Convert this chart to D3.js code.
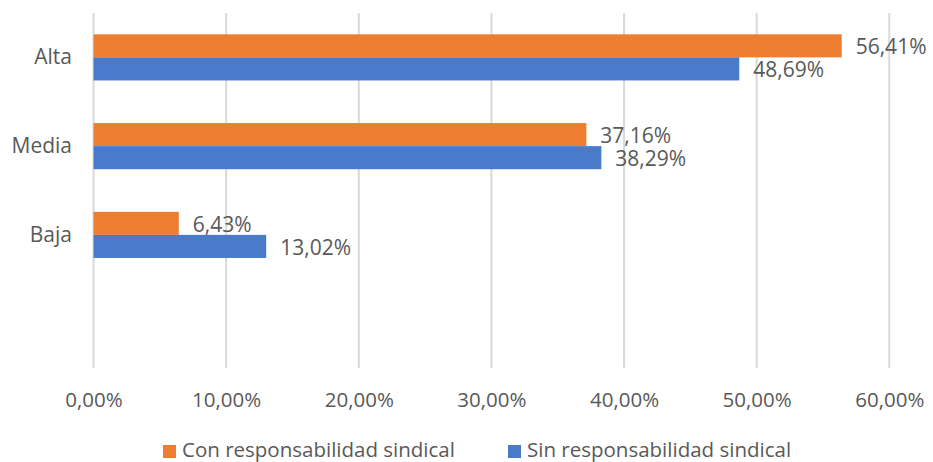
<!DOCTYPE html>
<html><head><meta charset="utf-8">
<script src="https://cdn.jsdelivr.net/npm/d3@7"></script>
<style>body{margin:0;background:#fff}svg{display:block}text{font-family:"Open Sans",sans-serif;fill:#595959}</style>
</head><body><svg id="c" width="933" height="462"></svg>
<script>
const categories = ["Alta", "Media", "Baja", ""];
const seriesNames = ["Con responsabilidad sindical", "Sin responsabilidad sindical"];
const conValues = [56.41, 37.16, 6.43, null];
const sinValues = [48.69, 38.29, 13.02, null];
const tickValues = [0, 10, 20, 30, 40, 50, 60];
const colors = ["#ED7D31", "#4A7BCA"];

const svg = d3.select("#c");
const fmt = v => v.toFixed(2).replace(".", ",") + "%";
const x = d3.scaleLinear().domain([0, 60]).range([93.5, 889.3]);
const y = d3.scaleBand().domain(categories).range([13, 368]).paddingInner(0.48).paddingOuter(0.24);
const ys = d3.scaleBand().domain(seriesNames).range([0, y.bandwidth()]);

// gridlines
svg.append("g").selectAll("line").data(tickValues).join("line")
  .attr("x1", d => x(d)).attr("x2", d => x(d)).attr("y1", 13).attr("y2", 368)
  .attr("stroke", "#d9d9d9").attr("stroke-width", 2);

// x axis labels
const xAxis = d3.axisBottom(x).tickValues(tickValues).tickSize(0).tickPadding(0).tickFormat(d => fmt(d));
const gx = svg.append("g").attr("transform", "translate(0,400)").call(xAxis);
gx.select(".domain").remove();
gx.selectAll("text").attr("font-size", 20.5).attr("dy", "0.35em").attr("fill", "#595959").attr("font-family", "Open Sans");

// y axis labels
const yAxis = d3.axisLeft(y).tickSize(0).tickPadding(0);
const gy = svg.append("g").attr("transform", "translate(72,0)").call(yAxis);
gy.select(".domain").remove();
gy.selectAll("text").attr("font-size", 21).attr("fill", "#595959").attr("font-family", "Open Sans");

const series = [conValues, sinValues];
series.forEach((vals, si) => {
  const data = categories.map((c, i) => ({c, v: vals[i]})).filter(d => d.v != null);
  const g = svg.append("g");
  g.selectAll("rect").data(data).join("rect")
    .attr("x", x(0)).attr("y", d => y(d.c) + ys(seriesNames[si]))
    .attr("width", d => x(d.v) - x(0)).attr("height", ys.bandwidth())
    .attr("fill", colors[si]);
  g.selectAll("text").data(data).join("text")
    .attr("x", d => x(d.v) + 14).attr("y", d => y(d.c) + ys(seriesNames[si]) + ys.bandwidth() / 2 + 1)
    .attr("dy", "0.35em").attr("font-size", 21).text(d => fmt(d.v));
});

// legend
const legX = [163, 508];
const leg = svg.append("g");
seriesNames.forEach((n, i) => {
  leg.append("rect").attr("x", legX[i]).attr("y", 445).attr("width", 13).attr("height", 13).attr("fill", colors[i]);
  leg.append("text").attr("x", legX[i] + 19).attr("y", 450).attr("dy", "0.35em").attr("font-size", 20.5).text(n);
});
</script></body></html>
